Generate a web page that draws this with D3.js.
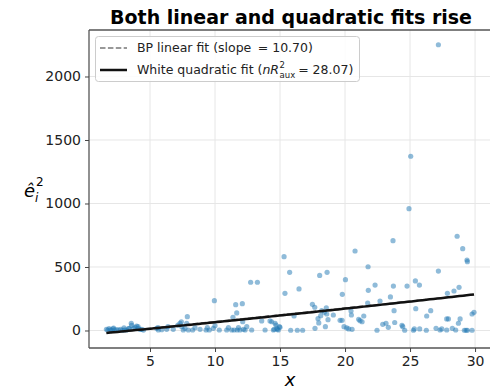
<!DOCTYPE html>
<html>
<head>
<meta charset="utf-8">
<script src="https://cdn.jsdelivr.net/npm/d3@7"></script>
<style>
  html, body { margin: 0; padding: 0; background: #fff; }
  svg { display: block; font-family: "DejaVu Sans", sans-serif; }
</style>
</head>
<body>
<svg id="chart" width="490" height="390"></svg>
<script>
// Regressor values x and squared residuals ê², one entry per observation
const xs = [
  1.65,1.75,1.85,1.95,2.05,2.15,2.2,2.3,2.45,2.6,2.75,2.9,3.0,3.05,3.2,3.35,3.41,3.56,3.59,3.72,3.85,3.97,4.08,4.1,4.25,4.36,4.5,
  5.51,5.62,5.64,5.9,6.28,6.38,6.79,7.15,7.31,7.41,7.44,7.56,7.69,7.82,7.87,7.95,8.28,8.46,8.85,9.31,9.41,9.56,9.87,9.95,10.0,
  10.33,10.9,11.03,11.28,11.38,11.46,11.59,11.67,11.7,11.8,11.92,12.1,12.13,12.18,12.31,12.44,12.74,12.82,13.26,13.59,13.85,14.23,14.36,14.49,14.55,14.62,14.69,14.75,14.8,14.87,14.95,15.0,
  15.31,15.38,15.74,15.82,16.08,16.33,16.46,16.74,17.49,17.67,17.69,17.92,17.98,18.05,18.13,18.2,18.41,18.49,18.56,18.59,18.62,18.69,19.1,19.62,19.77,19.79,19.92,20.03,20.13,20.28,20.46,20.49,20.54,
  20.77,21.05,21.15,21.31,21.44,21.74,21.77,21.79,22.31,22.46,22.69,22.9,23.15,23.33,23.49,23.69,23.72,23.77,23.82,24.38,24.44,24.59,24.77,24.92,25.05,25.26,25.33,25.41,25.44,25.72,25.74,
  26.25,26.28,26.59,27.0,27.18,27.18,27.31,27.44,27.82,27.87,27.95,27.82,28.25,28.38,28.51,28.62,28.72,28.77,28.85,29.05,29.18,29.31,29.38,29.41,29.41,29.77,29.77,29.92
];
const e2 = [
  10,4,15,6,2,12,18,4,8,3,10,2,20,6,4,14,17,57,40,17,25,35,30,17,8,9,3,
  17,22,4,6,9,30,9,43,57,69,30,4,17,57,109,4,4,22,9,4,22,4,17,235,38,
  4,4,22,4,104,4,203,138,4,22,4,211,69,9,4,30,380,4,380,75,4,75,69,4,9,57,43,17,9,4,30,25,
  581,293,458,2,114,2,327,2,206,183,17,93,60,434,117,156,143,30,178,130,458,85,122,80,80,285,30,400,20,12,154,122,9,
  626,88,77,69,114,216,502,316,358,2,232,49,57,25,264,707,350,156,63,41,30,2,350,959,1372,2,12,390,172,358,12,
  2,114,156,17,2250,468,4,12,91,293,91,4,17,311,4,742,57,340,91,644,2,2,555,542,2,130,2,143
];

// Fitted auxiliary-regression curves
const linFit = { intercept: -37.0, slope: 10.70 };
const quadFit = [-35.7, 9.79, 0.03];   // c0 + c1 x + c2 x²

const xTicks = [5, 10, 15, 20, 25, 30];
const yTicks = [0, 500, 1000, 1500, 2000];

const svg = d3.select("#chart");
const L = 89, R = 493, T = 30, B = 348;

const x = d3.scaleLinear().domain([0.308, 31.38]).range([L, R]);
const y = d3.scaleLinear().domain([-137.8, 2366]).range([B, T]);

// grid
const grid = svg.append("g");
grid.selectAll(".gx").data(xTicks).join("line")
  .attr("x1", d => x(d)).attr("x2", d => x(d)).attr("y1", T).attr("y2", B)
  .attr("stroke", "#e6e6e6").attr("stroke-width", 1);
grid.selectAll(".gy").data(yTicks).join("line")
  .attr("x1", L).attr("x2", R).attr("y1", d => y(d)).attr("y2", d => y(d))
  .attr("stroke", "#e6e6e6").attr("stroke-width", 1);

// scatter
const pts = xs.map((v, i) => ({ x: v, y: e2[i] }));
svg.append("g").selectAll("circle").data(pts).join("circle")
  .attr("cx", d => x(d.x)).attr("cy", d => y(d.y)).attr("r", 2.6)
  .attr("fill", "#1f77b4").attr("fill-opacity", 0.5);

// fit lines
const [xmin, xmax] = d3.extent(xs);
const grid100 = d3.range(0, 101).map(i => xmin + (xmax - xmin) * i / 100);
const line = d3.line().x(d => x(d[0])).y(d => y(d[1]));
svg.append("path")
  .attr("d", line(grid100.map(v => [v, linFit.intercept + linFit.slope * v])))
  .attr("fill", "none").attr("stroke", "#777").attr("stroke-width", 1.5)
  .attr("stroke-dasharray", "5.5,2.4");
svg.append("path")
  .attr("d", line(grid100.map(v => [v, quadFit[0] + quadFit[1] * v + quadFit[2] * v * v])))
  .attr("fill", "none").attr("stroke", "#111").attr("stroke-width", 2.5);

// axes
const xAxis = svg.append("g").attr("transform", `translate(0,${B})`)
  .call(d3.axisBottom(x).tickValues(xTicks).tickFormat(d3.format("d")).tickSize(4).tickPadding(4));
const yAxis = svg.append("g").attr("transform", `translate(${L},0)`)
  .call(d3.axisLeft(y).tickValues(yTicks).tickFormat(d3.format("d")).tickSize(4).tickPadding(4));
[xAxis, yAxis].forEach(g => {
  g.select(".domain").attr("stroke", "#555").attr("stroke-width", 1.3);
  g.selectAll(".tick line").attr("stroke", "#444");
  g.selectAll(".tick text").attr("font-size", 14).attr("fill", "#222")
    .attr("font-family", "DejaVu Sans");
});
xAxis.select(".domain").attr("d", `M${L},0H${R}`);
yAxis.select(".domain").attr("d", `M0,${B}V${T}`);
// top spine
svg.append("line").attr("x1", L).attr("x2", R).attr("y1", T).attr("y2", T)
  .attr("stroke", "#555").attr("stroke-width", 1.3);

// title
svg.append("text").attr("x", 291).attr("y", 24).attr("text-anchor", "middle")
  .attr("font-size", 19).attr("font-weight", "bold").attr("fill", "#000")
  .text("Both linear and quadratic fits rise");

// axis labels
svg.append("text").attr("x", 290).attr("y", 386).attr("text-anchor", "middle")
  .attr("font-size", 18).attr("font-style", "italic").text("x");
const eh = svg.append("text").attr("x", 24).attr("y", 197).attr("font-size", 18)
  .attr("font-style", "italic").text("ê");
const ehEnd = 24 + eh.node().getComputedTextLength();
svg.append("text").attr("x", ehEnd).attr("y", 202).attr("font-size", 12)
  .attr("font-style", "italic").text("i");
svg.append("text").attr("x", ehEnd + 1).attr("y", 186).attr("font-size", 12).text("2");

// legend
const lg = svg.append("g");
lg.append("rect").attr("x", 95.5).attr("y", 36.5).attr("width", 264).attr("height", 45)
  .attr("rx", 3).attr("fill", "#fff").attr("fill-opacity", 0.85)
  .attr("stroke", "#ccc").attr("stroke-width", 1);
lg.append("line").attr("x1", 100).attr("x2", 127).attr("y1", 48).attr("y2", 48)
  .attr("stroke", "#777").attr("stroke-width", 1.5).attr("stroke-dasharray", "5.5,2.4");
lg.append("line").attr("x1", 100).attr("x2", 127).attr("y1", 70).attr("y2", 70)
  .attr("stroke", "#111").attr("stroke-width", 2.5);
lg.append("text").attr("x", 137).attr("y", 52).attr("font-size", 12.5).attr("fill", "#222")
  .text("BP linear fit (slope \u2009= 10.70)");

// second entry assembled piece by piece so the math parts sit right after the text
let cx = 137;
function piece(str, opts) {
  const t = lg.append("text").attr("x", cx).attr("y", opts.y).attr("font-size", opts.size)
    .attr("fill", "#222").attr("font-style", opts.italic ? "italic" : "normal").text(str);
  return t.node().getComputedTextLength();
}
cx += piece("White quadratic fit (", { y: 74, size: 12.5 });
cx += piece("nR", { y: 74, size: 12.5, italic: true }) + 0.5;
const supW = piece("2", { y: 67.5, size: 8.5 });
const subW = piece("aux", { y: 78, size: 8.5 });
cx += Math.max(supW, subW) + 3;
piece("= 28.07)", { y: 74, size: 12.5 });
</script>
</body>
</html>
